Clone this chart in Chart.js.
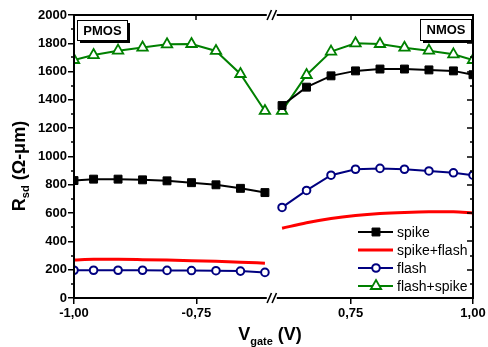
<!DOCTYPE html>
<html><head><meta charset="utf-8">
<script src="https://cdn.jsdelivr.net/npm/chart.js@4/dist/chart.umd.min.js"></script>
<style>html,body{margin:0;padding:0;background:#fff}#wrap{width:488px;height:347px}</style>
</head><body><div id="wrap"><canvas id="c" width="488" height="347"></canvas></div>
<script>
// ---- data ----
const pmosV = [-1.00,-0.96,-0.91,-0.86,-0.81,-0.76,-0.71,-0.66,-0.61];
const nmosV = [0.61,0.66,0.71,0.76,0.81,0.86,0.91,0.96,1.00];
const spikeP = [830,840,840,835,828,815,800,775,745];
const spikeN = [1360,1490,1570,1605,1618,1618,1612,1605,1578];
const spikeFlashP = [269,273,273,271,268,264,259,253,246];
const spikeFlashN = [493,532,562,583,597,605,609,609,600];
const flashP = [196,196,196,196,195,194,193,190,181];
const flashN = [640,760,868,910,916,910,898,885,868];
const flashSpikeP = [1682,1717,1748,1770,1793,1795,1746,1583,1322];
const flashSpikeN = [1322,1576,1741,1800,1795,1769,1748,1722,1682];
const xTickV = [-1.00,-0.75,0.75,1.00];
const yMin = 0, yMax = 2000, yStep = 200, yMinorStep = 100;
const seriesNames = ['spike','spike+flash','flash','flash+spike'];
const panelLabels = ['PMOS','NMOS'];

// broken x axis: PMOS part and NMOS part share one linear scale
const NMOS_SHIFT = 0.185, X_MAX = 0.815, X_BREAK = 0.404;
function axisU(v){ return v < 0 ? v + 1 : v - NMOS_SHIFT; }
function fmt(v){ return v.toFixed(2).replace('.', ','); }

const FONT = "'Liberation Sans', Arial, sans-serif";
const styles = [
  {borderColor:'#000', backgroundColor:'#000', borderWidth:2, pointStyle:'rect', pointRadius:5.6, pointBorderWidth:1, pointBackgroundColor:'#000', pointBorderColor:'#000'},
  {borderColor:'#f00', backgroundColor:'#f00', borderWidth:3, pointRadius:0, cubicInterpolationMode:'monotone'},
  {borderColor:'#000080', backgroundColor:'#fff', borderWidth:2, pointStyle:'circle', pointRadius:3.8, pointBorderWidth:2, pointBackgroundColor:'#fff', pointBorderColor:'#000080'},
  {borderColor:'#008000', backgroundColor:'#fff', borderWidth:2, pointStyle:'triangle', pointRadius:6, pointBorderWidth:1.8, pointBackgroundColor:'#fff', pointBorderColor:'#008000'}
];
const pairs = [[spikeP,spikeN],[spikeFlashP,spikeFlashN],[flashP,flashN],[flashSpikeP,flashSpikeN]];
const datasets = [];
pairs.forEach((p, k) => {
  [[pmosV,p[0]],[nmosV,p[1]]].forEach(([xs, ys]) => {
    datasets.push(Object.assign({label: seriesNames[k], data: xs.map((v,i)=>({x:axisU(v), y:ys[i]})), clip:0, pointHoverRadius:0}, styles[k]));
  });
});

const frame = {
  id:'frame',
  afterDraw(chart){
    const ctx = chart.ctx, a = chart.chartArea, xs = chart.scales.x, ys = chart.scales.y;
    const L = a.left, R = a.right, T = a.top, B = a.bottom;
    const xb = xs.getPixelForValue(X_BREAK);
    ctx.save();
    ctx.strokeStyle = '#000'; ctx.lineCap = 'butt';
    // frame
    ctx.lineWidth = 2;
    ctx.beginPath();
    ctx.moveTo(L, T-1); ctx.lineTo(L, B+1);
    ctx.moveTo(R, T-1); ctx.lineTo(R, B+1);
    [T, B].forEach(y => { ctx.moveTo(L-1, y); ctx.lineTo(xb-5, y); ctx.moveTo(xb+5, y); ctx.lineTo(R+1, y); });
    ctx.stroke();
    // break marks
    ctx.lineWidth = 1.6;
    ctx.beginPath();
    [T, B].forEach(y => { [-2.5, 2.5].forEach(d => { ctx.moveTo(xb+d-2.2, y+5); ctx.lineTo(xb+d+2.2, y-5); }); });
    ctx.stroke();
    // minor / mirrored ticks
    ctx.lineWidth = 1.5;
    ctx.beginPath();
    for (let v = yMin; v <= yMax; v += yMinorStep) {
      const y = Math.round(ys.getPixelForValue(v));
      const major = v % yStep === 0;
      if (!major) { ctx.moveTo(L, y); ctx.lineTo(L-3, y); }
      ctx.moveTo(R, y); ctx.lineTo(R-(major?6:3), y);
    }
    xTickV.forEach(v => { const x = Math.round(xs.getPixelForValue(axisU(v))); ctx.moveTo(x, T); ctx.lineTo(x, T+5); });
    ctx.stroke();
    // PMOS / NMOS boxes
    ctx.font = 'bold 13px ' + FONT; ctx.textAlign = 'center'; ctx.textBaseline = 'middle';
    [[77,20,50,20,panelLabels[0]],[420,19,51,21,panelLabels[1]]].forEach(([x,y,w,h,t]) => {
      ctx.fillStyle = '#000'; ctx.fillRect(x+3, y+3, w, h);
      ctx.fillStyle = '#fff'; ctx.fillRect(x, y, w, h);
      ctx.lineWidth = 1; ctx.strokeRect(x+0.5, y+0.5, w, h);
      ctx.fillStyle = '#000'; ctx.fillText(t, x + w/2 + 0.5, y + h/2 + 1);
    });
    // legend
    const rows = [232, 250, 268, 286];
    ctx.font = '14px ' + FONT; ctx.textAlign = 'left'; ctx.textBaseline = 'middle';
    styles.forEach((s, k) => {
      const y = rows[k];
      ctx.strokeStyle = s.borderColor; ctx.lineWidth = s.borderWidth;
      ctx.beginPath(); ctx.moveTo(358, y); ctx.lineTo(393, y); ctx.stroke();
      if (s.pointRadius > 0) {
        ctx.fillStyle = s.pointBackgroundColor; ctx.strokeStyle = s.pointBorderColor; ctx.lineWidth = s.pointBorderWidth;
        Chart.helpers.drawPoint(ctx, {pointStyle:s.pointStyle, radius:s.pointRadius, borderWidth:s.pointBorderWidth, rotation:0}, 376, y);
      }
      ctx.fillStyle = '#000'; ctx.fillText(seriesNames[k], 397, y + 1);
    });
    // y title: R_sd (Ω-μm)
    const big = 'bold 18px ' + FONT, small = 'bold 11px ' + FONT;
    ctx.save();
    ctx.translate(25, 166); ctx.rotate(-Math.PI/2);
    ctx.textBaseline = 'alphabetic'; ctx.textAlign = 'left';
    ctx.font = big; const w1 = ctx.measureText('R').width, w3 = ctx.measureText(' (Ω-μm)').width;
    ctx.font = small; const w2 = ctx.measureText('sd').width;
    let x0 = -(w1+w2+w3)/2;
    ctx.fillStyle = '#000';
    ctx.font = big; ctx.fillText('R', x0, 0);
    ctx.font = small; ctx.fillText('sd', x0 + w1, 4);
    ctx.font = big; ctx.fillText(' (Ω-μm)', x0 + w1 + w2, 0);
    ctx.restore();
    // x title: V_gate (V)
    ctx.textBaseline = 'alphabetic'; ctx.textAlign = 'left'; ctx.fillStyle = '#000';
    ctx.font = big; const v1 = ctx.measureText('V').width, v3 = ctx.measureText(' (V)').width;
    ctx.font = small; const v2 = ctx.measureText('gate').width;
    let xx = 270 - (v1+v2+v3)/2;
    ctx.font = big; ctx.fillText('V', xx, 340);
    ctx.font = small; ctx.fillText('gate', xx + v1, 345);
    ctx.font = big; ctx.fillText(' (V)', xx + v1 + v2, 340);
    ctx.restore();
  }
};

new Chart(document.getElementById('c'), {
  type: 'line',
  data: { datasets },
  options: {
    responsive: false, animation: false, devicePixelRatio: 1,
    layout: { padding: { top: 15, right: 15, left: 0, bottom: 0 } },
    plugins: { legend: { display: false }, tooltip: { enabled: false } },
    elements: { line: { fill: false } },
    scales: {
      x: {
        type: 'linear', min: 0, max: X_MAX,
        afterBuildTicks: s => { s.ticks = xTickV.map(v => ({ value: axisU(v) })); },
        afterFit: s => { s.height = 49; },
        ticks: { callback: (val, i) => fmt(xTickV[i]), font: { family: FONT, size: 13, weight: 'bold' }, color: '#000', padding: 2, maxRotation: 0, autoSkip: false },
        grid: { drawOnChartArea: false, drawTicks: true, tickLength: 6, color: '#000', lineWidth: 1.5 },
        border: { display: false }
      },
      y: {
        min: yMin, max: yMax,
        afterFit: s => { s.width = 74; },
        ticks: { stepSize: yStep, callback: v => String(v), font: { family: FONT, size: 13, weight: 'bold' }, color: '#000', padding: 1 },
        grid: { drawOnChartArea: false, drawTicks: true, tickLength: 6, color: '#000', lineWidth: 1.5 },
        border: { display: false }
      }
    }
  },
  plugins: [frame]
});
</script></body></html>
